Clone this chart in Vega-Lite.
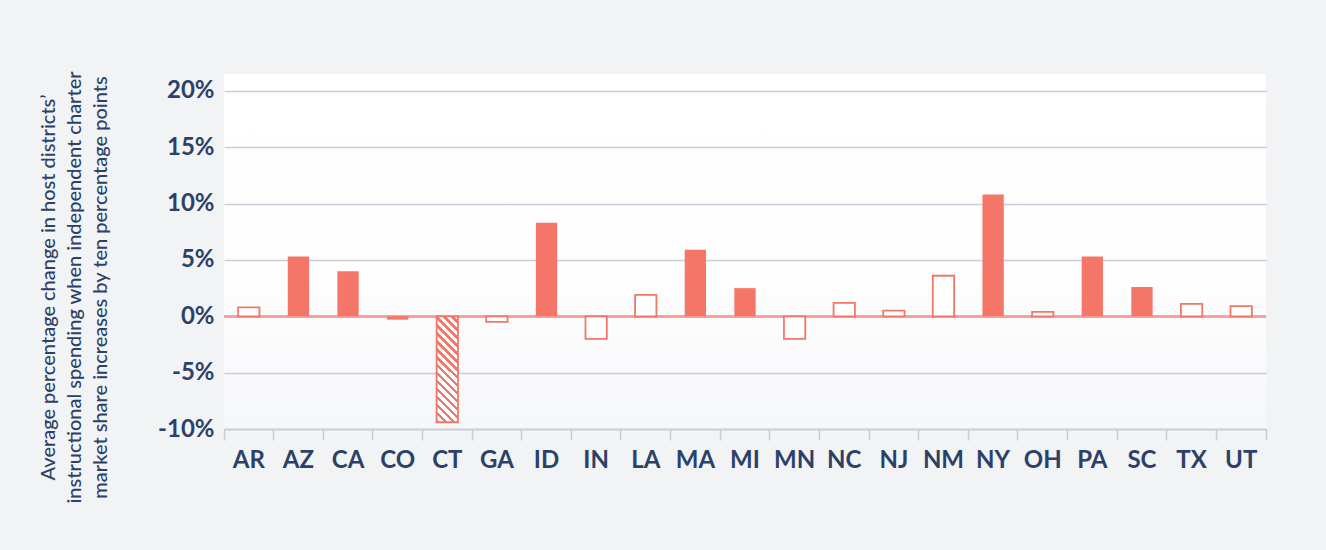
{
  "$schema": "https://vega.github.io/schema/vega-lite/v6.json",
  "autosize": {"type": "none"},
  "width": 1042,
  "height": 355,
  "padding": {"left": 224, "top": 74, "right": 60, "bottom": 121},
  "background": "#f2f3f5",
  "view": {
    "fill": {"gradient": "linear", "x1": 0, "y1": 0, "x2": 0, "y2": 1, "stops": [{"offset": 0, "color": "#ffffff"}, {"offset": 0.55, "color": "#fefefe"}, {"offset": 1, "color": "#f6f7f9"}]},
    "stroke": null
  },
  "config": {
    "font": "Lato",
    "axis": {"labelFont": "Lato", "titleFont": "Lato", "labelColor": "#2b4168", "titleColor": "#2b4168"}
  },
  "data": {
    "values": [
      {"state": "AR", "value": 0.8, "type": "outline"},
      {"state": "AZ", "value": 5.3, "type": "filled"},
      {"state": "CA", "value": 4.0, "type": "filled"},
      {"state": "CO", "value": -0.3, "type": "filled"},
      {"state": "CT", "value": -9.4, "type": "hatched"},
      {"state": "GA", "value": -0.5, "type": "outline"},
      {"state": "ID", "value": 8.3, "type": "filled"},
      {"state": "IN", "value": -2.0, "type": "outline"},
      {"state": "LA", "value": 1.9, "type": "outline"},
      {"state": "MA", "value": 5.9, "type": "filled"},
      {"state": "MI", "value": 2.5, "type": "filled"},
      {"state": "MN", "value": -2.0, "type": "outline"},
      {"state": "NC", "value": 1.2, "type": "outline"},
      {"state": "NJ", "value": 0.5, "type": "outline"},
      {"state": "NM", "value": 3.6, "type": "outline"},
      {"state": "NY", "value": 10.8, "type": "filled"},
      {"state": "OH", "value": 0.4, "type": "outline"},
      {"state": "PA", "value": 5.3, "type": "filled"},
      {"state": "SC", "value": 2.6, "type": "filled"},
      {"state": "TX", "value": 1.1, "type": "outline"},
      {"state": "UT", "value": 0.9, "type": "outline"}
    ]
  },
  "encoding": {
    "x": {
      "field": "state", "type": "nominal", "sort": null,
      "scale": {"domain": ["AR", "AZ", "CA", "CO", "CT", "GA", "ID", "IN", "LA", "MA", "MI", "MN", "NC", "NJ", "NM", "NY", "OH", "PA", "SC", "TX", "UT"], "paddingInner": 0, "paddingOuter": 0},
      "axis": {
        "title": null, "labelAngle": 0, "labelFontSize": 24, "labelFontWeight": "bold",
        "labelPadding": 8, "bandPosition": 1, "tickExtra": true,
        "tickSize": 11, "tickColor": "#c6cbd7", "tickWidth": 1.5,
        "domainColor": "#c6cbd7", "domainWidth": 1.5, "grid": false
      }
    },
    "y": {
      "field": "value", "type": "quantitative",
      "scale": {"domain": [-10, 21.5], "nice": false, "zero": false},
      "axis": {
        "values": [-10, -5, 0, 5, 10, 15, 20],
        "labelExpr": "datum.value + '%'",
        "labelFontSize": 24, "labelFontWeight": "bold", "labelPadding": 10,
        "domain": false, "ticks": false,
        "grid": true, "gridColor": "#c9cdd9", "gridWidth": 1.5,
        "title": ["Average percentage change in host districts\u2019", "instructional spending when independent charter", "market share increases by ten percentage points"],
        "titleFontSize": 20, "titleFontWeight": 500, "titleLineHeight": 26,
        "titleAngle": -90, "titleBaseline": "middle", "titleAlign": "center",
        "titleX": -176, "titleY": 213
      }
    }
  },
  "layer": [
    {
      "mark": {"type": "rule", "color": "#f8a19b", "strokeWidth": 2},
      "encoding": {"x": null, "y": {"datum": 0}}
    },
    {
      "transform": [{"filter": "datum.type === 'filled'"}],
      "mark": {"type": "bar", "width": {"band": 0.43}, "fill": "#f47669"}
    },
    {
      "transform": [{"filter": "datum.type === 'outline'"}],
      "mark": {"type": "bar", "width": {"band": 0.43}, "fill": "#ffffff", "stroke": "#f47669", "strokeWidth": 1.8}
    },
    {
      "transform": [{"filter": "datum.type === 'hatched'"}],
      "mark": {
        "type": "bar", "width": {"band": 0.43}, "stroke": "#f47669", "strokeWidth": 1.8,
        "fill": {
          "gradient": "linear", "x1": 0, "y1": 1, "x2": 0.232, "y2": -0.154,
          "stops": [
            {"offset": 0, "color": "#f47669"}, {"offset": 0.028, "color": "#f47669"}, {"offset": 0.028, "color": "#ffffff"}, {"offset": 0.0625, "color": "#ffffff"},
            {"offset": 0.0625, "color": "#f47669"}, {"offset": 0.0905, "color": "#f47669"}, {"offset": 0.0905, "color": "#ffffff"}, {"offset": 0.125, "color": "#ffffff"},
            {"offset": 0.125, "color": "#f47669"}, {"offset": 0.153, "color": "#f47669"}, {"offset": 0.153, "color": "#ffffff"}, {"offset": 0.1875, "color": "#ffffff"},
            {"offset": 0.1875, "color": "#f47669"}, {"offset": 0.2155, "color": "#f47669"}, {"offset": 0.2155, "color": "#ffffff"}, {"offset": 0.25, "color": "#ffffff"},
            {"offset": 0.25, "color": "#f47669"}, {"offset": 0.278, "color": "#f47669"}, {"offset": 0.278, "color": "#ffffff"}, {"offset": 0.3125, "color": "#ffffff"},
            {"offset": 0.3125, "color": "#f47669"}, {"offset": 0.3405, "color": "#f47669"}, {"offset": 0.3405, "color": "#ffffff"}, {"offset": 0.375, "color": "#ffffff"},
            {"offset": 0.375, "color": "#f47669"}, {"offset": 0.403, "color": "#f47669"}, {"offset": 0.403, "color": "#ffffff"}, {"offset": 0.4375, "color": "#ffffff"},
            {"offset": 0.4375, "color": "#f47669"}, {"offset": 0.4655, "color": "#f47669"}, {"offset": 0.4655, "color": "#ffffff"}, {"offset": 0.5, "color": "#ffffff"},
            {"offset": 0.5, "color": "#f47669"}, {"offset": 0.528, "color": "#f47669"}, {"offset": 0.528, "color": "#ffffff"}, {"offset": 0.5625, "color": "#ffffff"},
            {"offset": 0.5625, "color": "#f47669"}, {"offset": 0.5905, "color": "#f47669"}, {"offset": 0.5905, "color": "#ffffff"}, {"offset": 0.625, "color": "#ffffff"},
            {"offset": 0.625, "color": "#f47669"}, {"offset": 0.653, "color": "#f47669"}, {"offset": 0.653, "color": "#ffffff"}, {"offset": 0.6875, "color": "#ffffff"},
            {"offset": 0.6875, "color": "#f47669"}, {"offset": 0.7155, "color": "#f47669"}, {"offset": 0.7155, "color": "#ffffff"}, {"offset": 0.75, "color": "#ffffff"},
            {"offset": 0.75, "color": "#f47669"}, {"offset": 0.778, "color": "#f47669"}, {"offset": 0.778, "color": "#ffffff"}, {"offset": 0.8125, "color": "#ffffff"},
            {"offset": 0.8125, "color": "#f47669"}, {"offset": 0.8405, "color": "#f47669"}, {"offset": 0.8405, "color": "#ffffff"}, {"offset": 0.875, "color": "#ffffff"},
            {"offset": 0.875, "color": "#f47669"}, {"offset": 0.903, "color": "#f47669"}, {"offset": 0.903, "color": "#ffffff"}, {"offset": 0.9375, "color": "#ffffff"},
            {"offset": 0.9375, "color": "#f47669"}, {"offset": 0.9655, "color": "#f47669"}, {"offset": 0.9655, "color": "#ffffff"}, {"offset": 1, "color": "#ffffff"}
          ]
        }
      }
    }
  ]
}
